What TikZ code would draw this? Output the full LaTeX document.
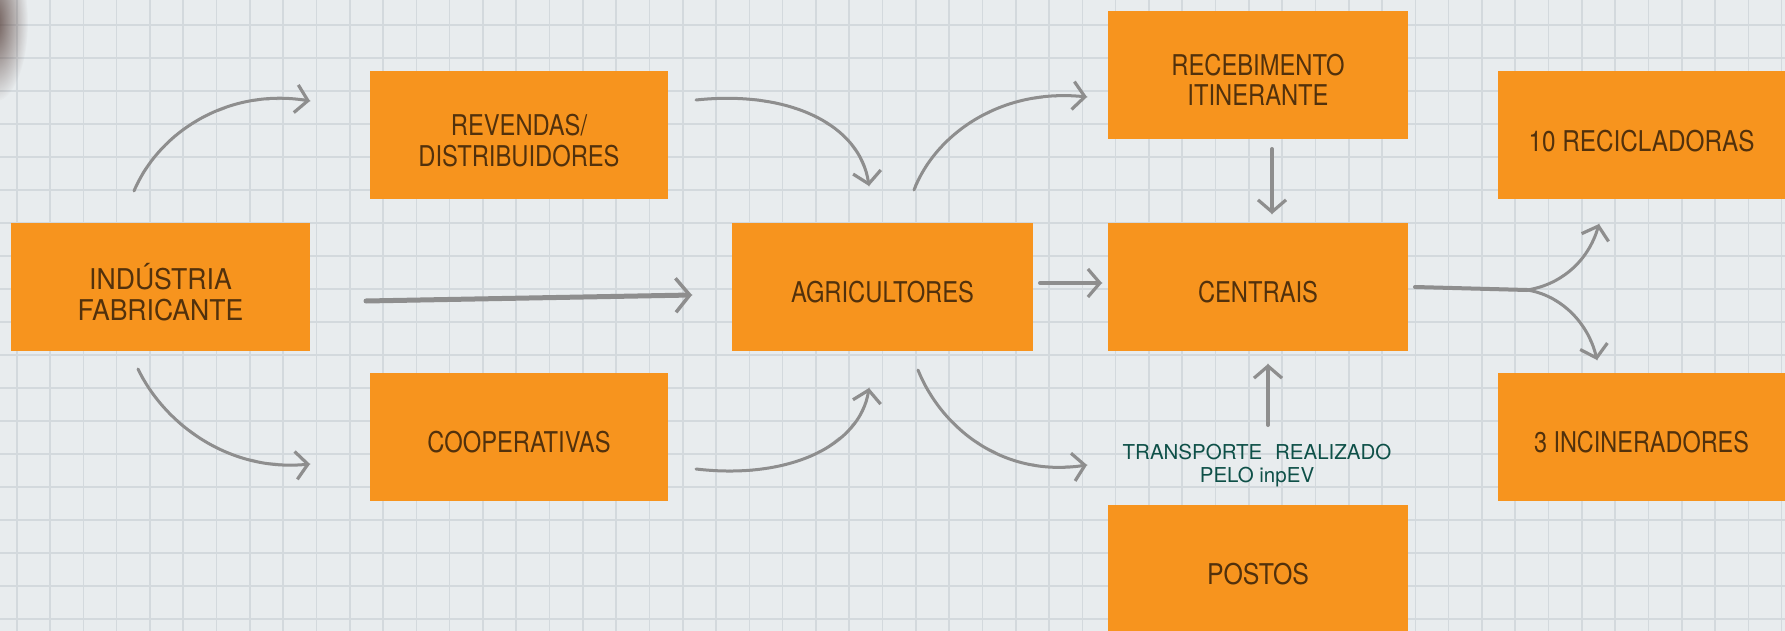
\documentclass[tikz,border=0pt]{standalone}
\usepackage{fontspec}
\setmainfont{TeX Gyre Heros}
\usetikzlibrary{arrows.meta,decorations.pathmorphing,calc,fadings}
\definecolor{paper}{HTML}{E8ECEE}
\definecolor{gridc}{HTML}{D3D9DD}
\definecolor{boxc}{HTML}{F7941E}
\definecolor{txtc}{HTML}{52310C}
\definecolor{tealtxt}{HTML}{0E5048}
\definecolor{penc}{HTML}{8E8E8E}
\definecolor{shadowc}{HTML}{5B4540}
\tikzfading[name=softspot, inner color=transparent!0, outer color=transparent!100]
\newcommand\hsq[2][0.83]{\scalebox{#1}[1]{#2}}
\newcommand\btext[1]{\raisebox{-9.5pt}[\height][\depth]{\begin{tabular}{@{}c@{}}#1\end{tabular}}}
\pgfmathsetseed{7}
\tikzset{
  box/.style={fill=boxc, text=txtc, minimum width=300pt, minimum height=128pt,
    inner sep=0pt, font=\fontsize{28.6}{30}\selectfont},
  sketch/.style={draw=penc, arrows=-, line width=1.3pt, opacity=.55, decorate,
    decoration={random steps, segment length=5pt, amplitude=0.9pt}},
  pen/.style={draw=penc, line width=3pt, line cap=round,
    -{Straight Barb[length=12pt,width=28pt,line width=3.2pt]}, postaction={sketch}},
  thickpen/.style={pen, line width=5pt,
    -{Straight Barb[length=14pt,width=34pt,line width=3.5pt]}},
}
\begin{document}
\begin{tikzpicture}[x=1pt,y=-1pt]
\useasboundingbox (0,0) rectangle (1785,631);
% paper
\fill[paper] (0,0) rectangle (1785,631);
\foreach \i in {0,...,53} {\draw[gridc, line width=1.6pt] ({16.7+33.3*\i},0) -- ++(0,631);}
\foreach \j in {0,...,18} {\draw[gridc, line width=1.6pt] (0,{25+33*\j}) -- ++(1785,0);}
\fill[shadowc, opacity=0.9, path fading=softspot, fit fading=true] (-6,22) ellipse (34pt and 80pt);
% boxes
\node[box, minimum width=299pt] (ind) at (160.5,287) {\btext{\hsq[0.93]{INDÚSTRIA}\\\hsq[0.93]{FABRICANTE}}};
\node[box, minimum width=298pt] (rev) at (519,135.5) {\btext{\hsq{REVENDAS/}\\\hsq{DISTRIBUIDORES}}};
\node[box, minimum width=298pt] (coop) at (519,437) {\btext{\hsq{COOPERATIVAS}}};
\node[box, minimum width=301pt] (agri) at (882.5,287) {\btext{\hsq{AGRICULTORES}}};
\node[box] (receb) at (1258,75) {\btext{\hsq{RECEBIMENTO}\\\hsq{ITINERANTE}}};
\node[box] (cent) at (1258,287) {\btext{\hsq{CENTRAIS}}};
\node[box] (post) at (1258,569) {\btext{\hsq[0.87]{POSTOS}}};
\node[box, minimum width=287pt] (rec) at (1641.5,135.5) {\btext{\hsq[0.85]{10 RECICLADORAS}}};
\node[box, minimum width=287pt] (inc) at (1641.5,437) {\btext{\hsq[0.82]{3 INCINERADORES}}};
\node[text=tealtxt, font=\fontsize{20.5}{23}\selectfont, align=center, inner sep=0pt]
  (tr) at (1257,466) {TRANSPORTE\hspace{0.35em} REALIZADO\\PELO inpEV};
% connector end points
\coordinate (a1) at (134,191);   \coordinate (b1) at (310,101);
\coordinate (a2) at (138,369);   \coordinate (b2) at (310,464);
\coordinate (a3) at (366,301);   \coordinate (b3) at (692,295);
\coordinate (a4) at (696,100);   \coordinate (b4) at (869,186);
\coordinate (a5) at (696,469);   \coordinate (b5) at (869,388);
\coordinate (a6) at (914,190);   \coordinate (b6) at (1087,97);
\coordinate (a7) at (918,370);   \coordinate (b7) at (1087,465);
\coordinate (a8) at (1040,283);  \coordinate (b8) at (1102,283);
\coordinate (a9) at (1272,149);  \coordinate (b9) at (1272,214);
\coordinate (a10) at (1268,425); \coordinate (b10) at (1268,364);
\coordinate (a11) at (1415,287); \coordinate (f11) at (1527,290);
\coordinate (u11) at (1599,224); \coordinate (d11) at (1597,360);
% connectors
\draw[pen] (a1) .. controls (160,130) and (230,88) .. (b1);
\draw[pen] (a2) .. controls (165,425) and (230,472) .. (b2);
\draw[thickpen] (a3) -- (b3);
\draw[pen] (a4) .. controls (790,90) and (860,125) .. (b4);
\draw[pen] (a5) .. controls (790,480) and (860,445) .. (b5);
\draw[pen] (a6) .. controls (935,135) and (1000,88) .. (b6);
\draw[pen] (a7) .. controls (940,425) and (1000,478) .. (b7);
\draw[pen, line width=4pt] (a8) -- (b8);
\draw[pen, line width=4pt] (a9) -- (b9);
\draw[pen, line width=4pt] (a10) -- (b10);
\draw[pen, line width=4pt, arrows=-] (a11) -- (f11);
\draw[pen] (f11) .. controls (1560,285) and (1588,262) .. (u11);
\draw[pen] (f11) .. controls (1560,295) and (1588,322) .. (d11);
\end{tikzpicture}
\end{document}
